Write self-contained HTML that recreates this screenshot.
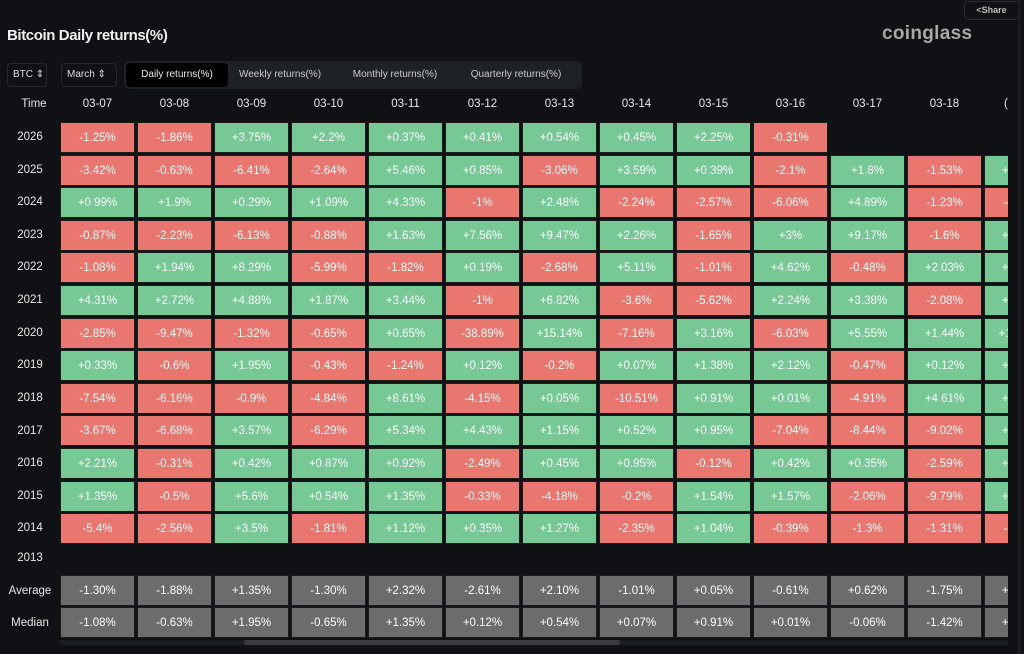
<!DOCTYPE html>
<html><head><meta charset="utf-8"><style>
*{margin:0;padding:0;box-sizing:border-box}
body{width:1024px;height:654px;background:#0f1115;font-family:"Liberation Sans",sans-serif;color:#e6e6e6;position:relative;overflow:hidden}
.t{position:absolute;left:7px;top:27px;font-size:15px;font-weight:bold;letter-spacing:-0.4px;color:#f0f0f0}
.logo{position:absolute;left:882px;top:23px;font-size:19px;font-weight:bold;color:#a8a8a8;letter-spacing:0.3px}
.share{position:absolute;left:964px;top:1px;width:55px;height:19px;border:1px solid #2a2d33;border-radius:4px;font-size:9px;font-weight:bold;color:#bbb;text-align:center;line-height:17px}
.sel{position:absolute;top:63px;height:24px;border:1px solid #262930;border-radius:4px;font-size:10px;line-height:22px;padding-left:5px;color:#ddd}
.tabs{position:absolute;left:110px;top:61px;width:397px;height:28px;background:#1e2126;border-radius:5px}
.tab{position:absolute;top:2px;height:24px;font-size:10px;line-height:24px;color:#ccc;text-align:center}
.tab.a{background:#000;border-radius:4px;color:#e8e8e8}
.hd{position:absolute;top:98px;font-size:11.5px;color:#e6e6e6;width:75px;text-align:center}
.lb{position:absolute;left:0;width:60px;text-align:center;font-size:11.5px;color:#e6e6e6}
.wrap{position:absolute;left:60px;top:0;width:948px;height:654px;overflow:hidden}
.r{position:absolute;left:0;height:31px;white-space:nowrap}
.r div{display:inline-block;width:75px;height:31px;margin-right:2px;border:1px solid #1c1c1c;text-align:center;line-height:31px;font-size:11.5px;color:#fff;vertical-align:top}
.g{background:#76c994}.d{background:#e9766f}.m{background:#6c6c6c}
.sb{position:absolute;left:60px;top:640px;width:948px;height:5px;background:#1c1f24}
.th{position:absolute;left:244px;top:640px;width:376px;height:5px;background:#3a3c40;border-radius:2px}
.vr{position:absolute;left:1018px;top:0;width:3px;height:654px;background:#191b1f}
</style></head><body>
<div class="share">&lt;Share</div>
<div class="t">Bitcoin Daily returns(%)</div>
<div class="logo">coinglass</div>
<div class="sel" style="left:7px;width:40px">BTC ⇕</div>
<div class="sel" style="left:61px;width:56px">March ⇕</div>
<div class="tabs" style="left:124px;width:458px">
<div class="tab a" style="left:2px;width:102px">Daily returns(%)</div>
<div class="tab" style="left:104px;width:104px">Weekly returns(%)</div>
<div class="tab" style="left:216px;width:110px">Monthly returns(%)</div>
<div class="tab" style="left:332px;width:120px">Quarterly returns(%)</div>
</div>
<div class="lb" style="top:98px;left:4px">Time</div>
<div class="hd" style="left:60px">03-07</div><div class="hd" style="left:137px">03-08</div><div class="hd" style="left:214px">03-09</div><div class="hd" style="left:291px">03-10</div><div class="hd" style="left:368px">03-11</div><div class="hd" style="left:445px">03-12</div><div class="hd" style="left:522px">03-13</div><div class="hd" style="left:599px">03-14</div><div class="hd" style="left:676px">03-15</div><div class="hd" style="left:753px">03-16</div><div class="hd" style="left:830px">03-17</div><div class="hd" style="left:907px">03-18</div><div class="hd" style="left:984px;text-align:left;padding-left:20px">(</div>

<div class="lb" style="top:131px">2026</div>
<div class="lb" style="top:164px">2025</div>
<div class="lb" style="top:196px">2024</div>
<div class="lb" style="top:229px">2023</div>
<div class="lb" style="top:261px">2022</div>
<div class="lb" style="top:294px">2021</div>
<div class="lb" style="top:327px">2020</div>
<div class="lb" style="top:359px">2019</div>
<div class="lb" style="top:392px">2018</div>
<div class="lb" style="top:425px">2017</div>
<div class="lb" style="top:457px">2016</div>
<div class="lb" style="top:490px">2015</div>
<div class="lb" style="top:522px">2014</div>
<div class="lb" style="top:552px">2013</div>
<div class="lb" style="top:585px">Average</div>
<div class="lb" style="top:617px">Median</div>

<div class="wrap">
<div class="r" style="top:122px"><div class="d">-1.25%</div><div class="d">-1.86%</div><div class="g">+3.75%</div><div class="g">+2.2%</div><div class="g">+0.37%</div><div class="g">+0.41%</div><div class="g">+0.54%</div><div class="g">+0.45%</div><div class="g">+2.25%</div><div class="d">-0.31%</div></div>
<div class="r" style="top:154.6px"><div class="d">-3.42%</div><div class="d">-0.63%</div><div class="d">-6.41%</div><div class="d">-2.64%</div><div class="g">+5.46%</div><div class="g">+0.85%</div><div class="d">-3.06%</div><div class="g">+3.59%</div><div class="g">+0.39%</div><div class="d">-2.1%</div><div class="g">+1.8%</div><div class="d">-1.53%</div><div class="g">+2.14%</div></div>
<div class="r" style="top:187.2px"><div class="g">+0.99%</div><div class="g">+1.9%</div><div class="g">+0.29%</div><div class="g">+1.09%</div><div class="g">+4.33%</div><div class="d">-1%</div><div class="g">+2.48%</div><div class="d">-2.24%</div><div class="d">-2.57%</div><div class="d">-6.06%</div><div class="g">+4.89%</div><div class="d">-1.23%</div><div class="d">-4.12%</div></div>
<div class="r" style="top:219.8px"><div class="d">-0.87%</div><div class="d">-2.23%</div><div class="d">-6.13%</div><div class="d">-0.88%</div><div class="g">+1.63%</div><div class="g">+7.56%</div><div class="g">+9.47%</div><div class="g">+2.26%</div><div class="d">-1.65%</div><div class="g">+3%</div><div class="g">+9.17%</div><div class="d">-1.6%</div><div class="g">+1.22%</div></div>
<div class="r" style="top:252.4px"><div class="d">-1.08%</div><div class="g">+1.94%</div><div class="g">+8.29%</div><div class="d">-5.99%</div><div class="d">-1.82%</div><div class="g">+0.19%</div><div class="d">-2.68%</div><div class="g">+5.11%</div><div class="d">-1.01%</div><div class="g">+4.62%</div><div class="d">-0.48%</div><div class="g">+2.03%</div><div class="g">+1.18%</div></div>
<div class="r" style="top:285px"><div class="g">+4.31%</div><div class="g">+2.72%</div><div class="g">+4.88%</div><div class="g">+1.87%</div><div class="g">+3.44%</div><div class="d">-1%</div><div class="g">+6.82%</div><div class="d">-3.6%</div><div class="d">-5.62%</div><div class="g">+2.24%</div><div class="g">+3.38%</div><div class="d">-2.08%</div><div class="g">+1.59%</div></div>
<div class="r" style="top:317.6px"><div class="d">-2.85%</div><div class="d">-9.47%</div><div class="d">-1.32%</div><div class="d">-0.65%</div><div class="g">+0.65%</div><div class="d">-38.89%</div><div class="g">+15.14%</div><div class="d">-7.16%</div><div class="g">+3.16%</div><div class="d">-6.03%</div><div class="g">+5.55%</div><div class="g">+1.44%</div><div class="g">+10.91%</div></div>
<div class="r" style="top:350.2px"><div class="g">+0.33%</div><div class="d">-0.6%</div><div class="g">+1.95%</div><div class="d">-0.43%</div><div class="d">-1.24%</div><div class="g">+0.12%</div><div class="d">-0.2%</div><div class="g">+0.07%</div><div class="g">+1.38%</div><div class="g">+2.12%</div><div class="d">-0.47%</div><div class="g">+0.12%</div><div class="g">+0.51%</div></div>
<div class="r" style="top:382.8px"><div class="d">-7.54%</div><div class="d">-6.16%</div><div class="d">-0.9%</div><div class="d">-4.84%</div><div class="g">+8.61%</div><div class="d">-4.15%</div><div class="g">+0.05%</div><div class="d">-10.51%</div><div class="g">+0.91%</div><div class="g">+0.01%</div><div class="d">-4.91%</div><div class="g">+4.61%</div><div class="g">+2.33%</div></div>
<div class="r" style="top:415.4px"><div class="d">-3.67%</div><div class="d">-6.68%</div><div class="g">+3.57%</div><div class="d">-6.29%</div><div class="g">+5.34%</div><div class="g">+4.43%</div><div class="g">+1.15%</div><div class="g">+0.52%</div><div class="g">+0.95%</div><div class="d">-7.04%</div><div class="d">-8.44%</div><div class="d">-9.02%</div><div class="g">+1.12%</div></div>
<div class="r" style="top:448px"><div class="g">+2.21%</div><div class="d">-0.31%</div><div class="g">+0.42%</div><div class="g">+0.87%</div><div class="g">+0.92%</div><div class="d">-2.49%</div><div class="g">+0.45%</div><div class="g">+0.95%</div><div class="d">-0.12%</div><div class="g">+0.42%</div><div class="g">+0.35%</div><div class="d">-2.59%</div><div class="g">+0.82%</div></div>
<div class="r" style="top:480.6px"><div class="g">+1.35%</div><div class="d">-0.5%</div><div class="g">+5.6%</div><div class="g">+0.54%</div><div class="g">+1.35%</div><div class="d">-0.33%</div><div class="d">-4.18%</div><div class="d">-0.2%</div><div class="g">+1.54%</div><div class="g">+1.57%</div><div class="d">-2.06%</div><div class="d">-9.79%</div><div class="g">+2.41%</div></div>
<div class="r" style="top:513.2px"><div class="d">-5.4%</div><div class="d">-2.56%</div><div class="g">+3.5%</div><div class="d">-1.81%</div><div class="g">+1.12%</div><div class="g">+0.35%</div><div class="g">+1.27%</div><div class="d">-2.35%</div><div class="g">+1.04%</div><div class="d">-0.39%</div><div class="d">-1.3%</div><div class="d">-1.31%</div><div class="d">-3.11%</div></div>
<div class="r" style="top:575px"><div class="m">-1.30%</div><div class="m">-1.88%</div><div class="m">+1.35%</div><div class="m">-1.30%</div><div class="m">+2.32%</div><div class="m">-2.61%</div><div class="m">+2.10%</div><div class="m">-1.01%</div><div class="m">+0.05%</div><div class="m">-0.61%</div><div class="m">+0.62%</div><div class="m">-1.75%</div><div class="m">+0.82%</div></div>
<div class="r" style="top:607px"><div class="m">-1.08%</div><div class="m">-0.63%</div><div class="m">+1.95%</div><div class="m">-0.65%</div><div class="m">+1.35%</div><div class="m">+0.12%</div><div class="m">+0.54%</div><div class="m">+0.07%</div><div class="m">+0.91%</div><div class="m">+0.01%</div><div class="m">-0.06%</div><div class="m">-1.42%</div><div class="m">+1.12%</div></div>
</div>
<div class="sb"></div><div class="th"></div>
<div class="vr"></div>
</body></html>
